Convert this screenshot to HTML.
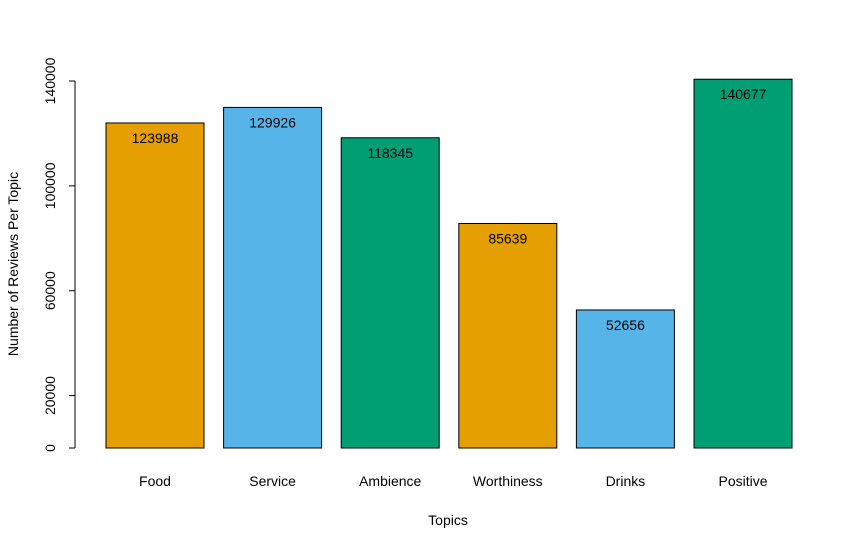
<!DOCTYPE html>
<html><head><meta charset="utf-8"><style>
body{margin:0;background:#fff;}
svg text{font-family:"Liberation Sans",Arial,sans-serif;font-size:14px;fill:#000;}
</style></head><body>
<svg id="chart" width="860" height="550"></svg>
<script>
const categories=["Food","Service","Ambience","Worthiness","Drinks","Positive"];
const values=[123988,129926,118345,85639,52656,140677];
const colors=["#E69F00","#56B4E9","#009E73","#E69F00","#56B4E9","#009E73"];
const yTicks=[0,20000,60000,100000,140000];
const NS="http://www.w3.org/2000/svg";
const svg=document.getElementById("chart");
const y0=448,ppu=367/140000;
const y=v=>y0-v*ppu;
const x=i=>106+i*117.6;
const bw=98;
function mk(t,a,txt){const e=document.createElementNS(NS,t);for(const k in a)e.setAttribute(k,a[k]);if(txt!==undefined)e.textContent=txt;svg.appendChild(e);return e;}
categories.forEach((c,i)=>{
 const r=mk("rect",{x:x(i),y:y(values[i]),width:bw,height:y0-y(values[i]),fill:colors[i],stroke:"#000","stroke-width":1});
 
 
 const v=mk("text",{x:x(i)+bw/2,y:y(values[i])+20,"text-anchor":"middle","font-size":"15"},values[i]);
 
 
 const l=mk("text",{x:x(i)+bw/2,y:486,"text-anchor":"middle"},c);
 
 
});
const ax=mk("line",{x1:75,x2:75,y1:y(0),y2:y(140000),stroke:"#000"});


yTicks.forEach(t=>{
 const tk=mk("line",{x1:69,x2:75,y1:y(t),y2:y(t),stroke:"#000"});
 
 
 const tl=mk("text",{x:55,y:y(t),"text-anchor":"middle",transform:`rotate(-90 55 ${y(t)})`},t);
 
 
});
const yt=mk("text",{x:18,y:264,"text-anchor":"middle",transform:"rotate(-90 18 264)"},"Number of Reviews Per Topic");


const xt=mk("text",{x:448,y:525,"text-anchor":"middle"},"Topics");


</script>
</body></html>
